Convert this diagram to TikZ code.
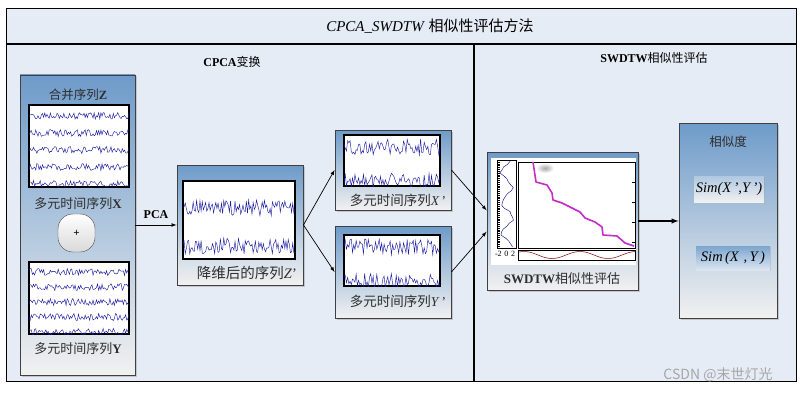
\documentclass[tikz,border=0pt]{standalone}
\usepackage{fontspec}
\setmainfont{Liberation Serif}
\newfontfamily\cjk{Noto Sans CJK SC}
\usetikzlibrary{shadows}
\definecolor{panelbg}{HTML}{E6ECF5}
\definecolor{boxtop}{HTML}{6E9BC9}
\definecolor{boxbot}{HTML}{F1F1F1}
\definecolor{wavecol}{HTML}{1E1EA0}
\definecolor{txtcol}{HTML}{2E2E2E}
\definecolor{pathcol}{HTML}{C62CC8}
\newcommand{\zh}[1]{{\cjk #1}}
\newcommand{\traces}[6]{%
  \begin{scope}
    \clip (#1.south west) rectangle (#1.north east);
    \foreach \yy in {#4}
      \draw[wavecol, line width=0.45pt] plot[domain=#2:#3, samples=#6] (\x, {\yy+#5*rand});
  \end{scope}}
\tikzset{
  bluebox/.style={draw=black!75, line width=0.9pt, top color=boxtop, bottom color=boxbot,
    inner sep=0pt, drop shadow={shadow xshift=1.5pt, shadow yshift=-1.5pt, opacity=0.35}},
  plotbox/.style={draw=black, line width=1.3pt, fill=white, inner sep=0pt},
  lbl/.style={text=txtcol, inner sep=0pt, font=\fontsize{12.5}{14}\selectfont},
  hdr/.style={text=black, inner sep=0pt, font=\fontsize{12}{14}\selectfont},
  arr/.style={-latex, line width=0.7pt},
  simbox/.style={inner sep=0pt, font=\fontsize{14.5}{16}\selectfont\itshape,
    drop shadow={shadow xshift=1pt, shadow yshift=-1pt, opacity=0.25}},
}
\begin{document}
\begin{tikzpicture}[x=1pt, y=-1pt]
\pgfmathsetseed{11}
\useasboundingbox[fill=white] (0,0) rectangle (802,393);
\draw[fill=panelbg, line width=0.8pt] (6,8) rectangle (796,381);
\draw[line width=1.8pt] (6,44) -- (796,44);
\draw[line width=1.2pt] (474,44) -- (474,381);
\node[inner sep=0pt, font=\fontsize{15}{17}\selectfont] (title) at (430,26)
  {\textit{CPCA\_SWDTW} \zh{相似性评估方法}};
\node[hdr] (cpcahdr) at (232,62) {\textbf{CPCA}\zh{变换}};
\node[hdr] (swhdr) at (654,58) {\textbf{SWDTW}\zh{相似性评估}};

% merged series
\node[bluebox, minimum width=115pt, minimum height=300pt] (zbox) at (77.5,225) {};
\node[lbl] (zlbl) at (78,95) {\zh{合并序列}\textbf{Z}};
\node[plotbox, minimum width=100pt, minimum height=82pt] (zplot) at (79,146) {};
\traces{zplot}{29}{129}{116,133,150,167,184}{3.5}{90}
\node[lbl, font=\fontsize{13}{14}\selectfont] (xlbl) at (78,204) {\zh{多元时间序列}\textbf{X}};
\node[draw=black!70, rounded corners=15pt, top color=white, bottom color=black!15,
  minimum width=37pt, minimum height=38pt, inner sep=0pt, font=\bfseries\fontsize{11}{11}\selectfont] (plus) at (76.5,233) {+};
\node[plotbox, minimum width=100pt, minimum height=72pt] (yplot) at (79,298) {};
\traces{yplot}{29}{129}{272,287,302,317,332}{3.5}{90}
\node[lbl, font=\fontsize{13}{14}\selectfont] (ylbl) at (78,349) {\zh{多元时间序列}\textbf{Y}};

% reduced series
\node[bluebox, minimum width=126pt, minimum height=120pt] (zpbox) at (240,225) {};
\node[plotbox, minimum width=112pt, minimum height=78pt] (zpplot) at (239,220) {};
\traces{zpplot}{183}{295}{208,246}{8}{100}
\node[lbl, font=\fontsize{14.5}{16}\selectfont] (zplbl) at (247,273) {\zh{降维后的序列}\textit{Z}'};

\node[bluebox, minimum width=116pt, minimum height=80pt] (xpbox) at (393,170) {};
\node[plotbox, minimum width=96pt, minimum height=51pt] (xpplot) at (392,160.5) {};
\traces{xpplot}{344}{440}{147,181}{8}{80}
\node[lbl, font=\fontsize{13.5}{15}\selectfont] (xplbl) at (398,200) {\zh{多元时间序列}\textit{X}\,'};

\node[bluebox, minimum width=116pt, minimum height=92pt] (ypbox) at (393,272) {};
\node[plotbox, minimum width=96pt, minimum height=51pt] (ypplot) at (392,260.5) {};
\traces{ypplot}{344}{440}{247,281}{8}{80}
\node[lbl, font=\fontsize{13.5}{15}\selectfont] (yplbl) at (398,301) {\zh{多元时间序列}\textit{Y}\,'};

\draw[arr] (zbox) -- node[above=3pt, font=\fontsize{12}{14}\selectfont\bfseries] {PCA} (zpbox);
\draw[arr] (zpbox.east) -- (xpbox.west);
\draw[arr] (zpbox.east) -- (ypbox.west);

% swdtw
\node[bluebox, minimum width=151pt, minimum height=138pt] (dtwbox) at (562.5,221) {};
\node[fill=white, minimum width=145pt, minimum height=107pt, inner sep=0pt] (dtwimg) at (563.5,211.5) {};
\draw[line width=0.8pt] (497,160) rectangle (516,248);
\draw[densely dotted, line width=1.2pt] (499,160) -- (499,248);
\draw[blue!50!black, line width=0.4pt] plot[domain=161:247, samples=30] ({507+6*sin(\x*12)+1.5*rand}, \x);
\node[inner sep=0pt, font=\fontsize{8}{8}\selectfont] (ticklbl) at (505,254) {-2\,\,0\,\,2};
\shade[inner color=gray!70, outer color=white] (545,168) ellipse (9 and 5);
\draw[line width=0.6pt] (518,162) rectangle (635,248);
\foreach \t in {182,202,222,242} \draw[line width=0.5pt] (632,\t) -- (635,\t);
\draw[pathcol, line width=1.6pt, line join=round] (533,162) -- (536,182) -- (547,185)
  -- (552,193) -- (553,200) -- (562,203) -- (580,212) -- (585,218) -- (595,222) -- (602,227)
  -- (603,235) -- (617,236) -- (625,243) -- (634,246);
\draw[line width=0.6pt] (518,250) rectangle (635,260);
\draw[red!50!black, line width=0.5pt] plot[domain=518:635, samples=60] (\x, {255-3.5*cos((\x-580)*6.4286)});
\node[lbl, font=\fontsize{13}{15}\selectfont] (dtwlbl) at (562,279) {\textbf{SWDTW}\zh{相似性评估}};

\draw[arr] (xpbox.east) -- (dtwbox.172);
\draw[arr] (ypbox.east) -- (dtwbox.188);

% similarity
\node[bluebox, minimum width=98pt, minimum height=195pt] (simbox) at (728,220.5) {};
\node[lbl, font=\fontsize{12.5}{14}\selectfont] (simlbl) at (728,142) {\zh{相似度}};
\node[simbox, top color=boxtop!55, bottom color=boxbot, minimum width=70pt, minimum height=26pt]
  (simp) at (729,189) {Sim(X\,',Y\,'\/)};
\node[simbox, top color=boxtop!90, bottom color=boxtop!25, minimum width=74pt, minimum height=24pt]
  (simxy) at (733,258) {Sim\,(X\,\,,\,Y\,)};
\draw[arr, line width=1.4pt] (dtwbox) -- (simbox.west |- dtwbox.east);

\node[inner sep=0pt, text=black!35, font=\cjk\fontsize{14}{16}\selectfont] (mark) at (718,375) {CSDN @末世灯光};
\end{tikzpicture}
\end{document}
